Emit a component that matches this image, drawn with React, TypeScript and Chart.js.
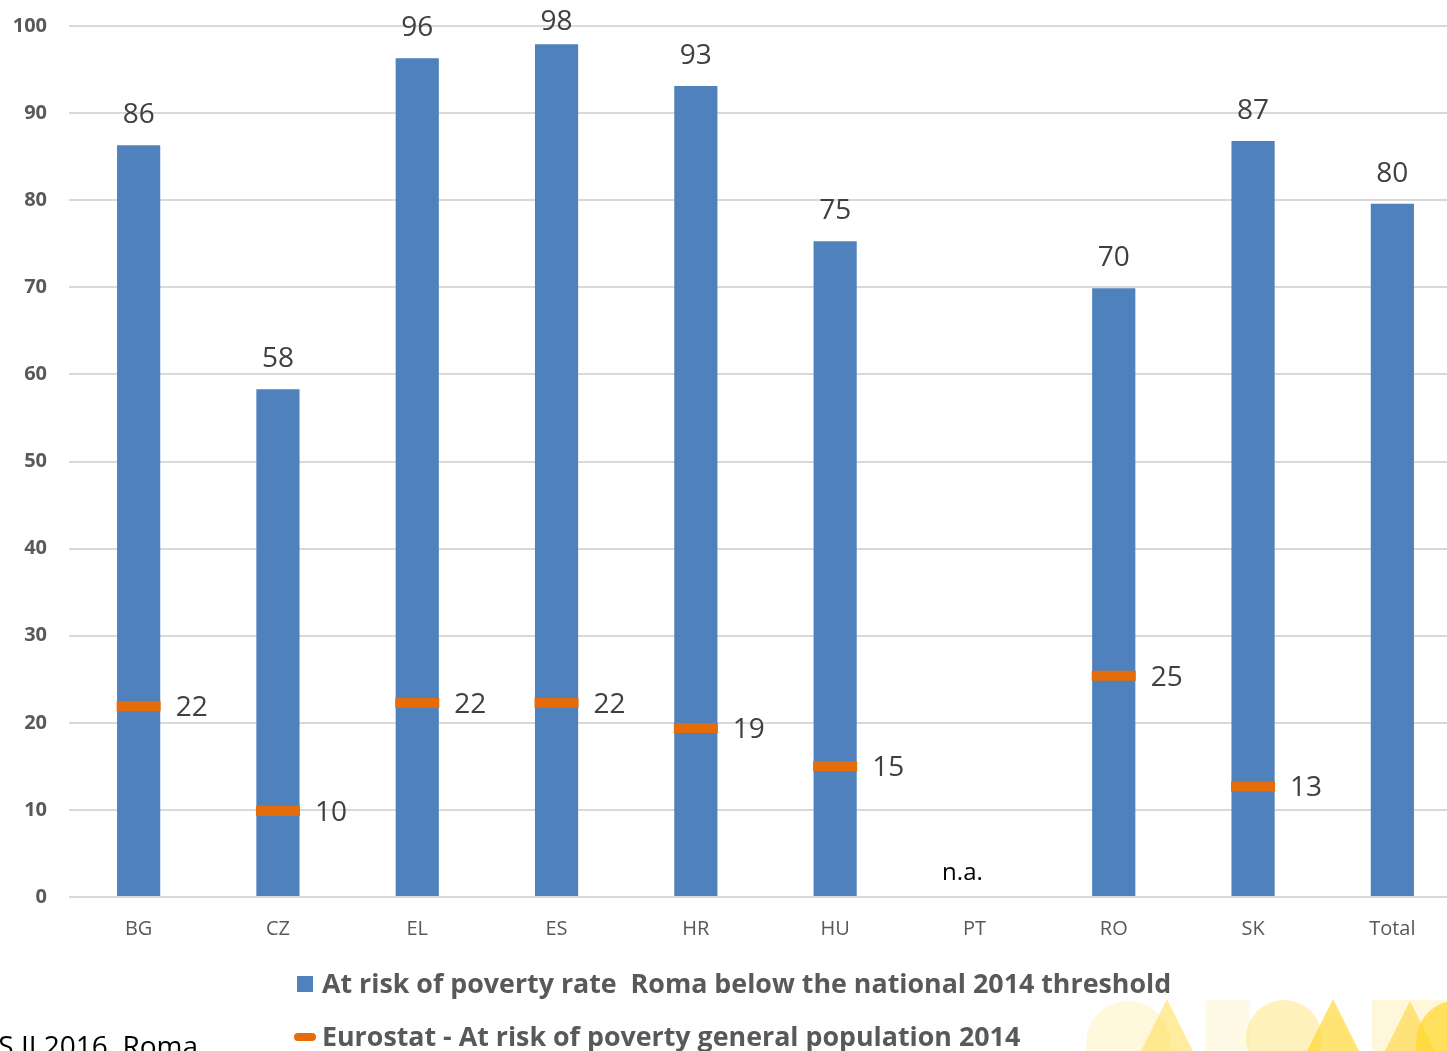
import { useEffect, useRef } from "react";
import { Chart, registerables } from "chart.js";

Chart.register(...registerables);

// Countries and the aggregate column
const categories = ["BG", "CZ", "EL", "ES", "HR", "HU", "PT", "RO", "SK", "Total"];
// At-risk-of-poverty rate of Roma below the national 2014 threshold (%)
const romaRate: (number | null)[] = [86.3, 58.3, 96.3, 97.9, 93.1, 75.3, null, 69.9, 86.8, 79.6];
// Eurostat at-risk-of-poverty rate, general population 2014 (%)
const generalRate: (number | null)[] = [21.9, 9.9, 22.3, 22.3, 19.4, 15.0, null, 25.4, 12.7, null];

const romaLabel = "At risk of poverty rate  Roma below the national 2014 threshold";
const generalLabel = "Eurostat - At risk of poverty general population 2014";
const missingText = "n.a.";
const sourceText = "EU-MIDIS II 2016, Roma";

const BLUE = "#4F81BD";
const ORANGE = "#E46C0A";
const FONT = "'Open Sans', 'DejaVu Sans', sans-serif";

const valueLabels = {
  id: "valueLabels",
  afterDatasetsDraw(chart: any) {
    const ctx = chart.ctx as CanvasRenderingContext2D;
    const bars = chart.getDatasetMeta(0).data;
    const marks = chart.getDatasetMeta(1).data;
    const xs = chart.scales.x;
    const ys = chart.scales.y;
    ctx.save();
    ctx.font = `28px ${FONT}`;
    ctx.fillStyle = "#404040";
    ctx.textBaseline = "middle";
    ctx.textAlign = "center";
    bars.forEach((el: any, i: number) => {
      const v = romaRate[i];
      if (v == null) return;
      // keep labels of the tallest bars inside the canvas
      const y = Math.max(el.y - 30, chart.chartArea.top - 4);
      ctx.fillText(String(Math.round(v)), el.x, y);
    });
    ctx.textAlign = "left";
    marks.forEach((el: any, i: number) => {
      const v = generalRate[i];
      if (v == null) return;
      ctx.fillText(String(Math.round(v)), el.x + 37, el.y + 2);
    });
    ctx.font = `24px ${FONT}`;
    ctx.fillStyle = "#000000";
    ctx.textAlign = "center";
    categories.forEach((_, i) => {
      if (romaRate[i] == null) {
        ctx.fillText(missingText, xs.getPixelForValue(i) - 12, ys.getPixelForValue(0) - 24);
      }
    });
    ctx.restore();
  },
};

// Legend block, source note and the decorative logo strip at the foot of the canvas
const footer = {
  id: "footer",
  afterDraw(chart: any) {
    const ctx = chart.ctx as CanvasRenderingContext2D;
    ctx.save();

    const tri = (ax: number, ay: number, half: number, h: number, color: string) => {
      ctx.fillStyle = color;
      ctx.beginPath();
      ctx.moveTo(ax, ay);
      ctx.lineTo(ax + half, ay + h);
      ctx.lineTo(ax - half, ay + h);
      ctx.closePath();
      ctx.fill();
    };
    const circ = (cx: number, cy: number, r: number, color: string) => {
      ctx.fillStyle = color;
      ctx.beginPath();
      ctx.arc(cx, cy, r, 0, Math.PI * 2);
      ctx.fill();
    };
    ctx.fillStyle = "rgba(255, 240, 180, 0.35)";
    ctx.fillRect(1205, 1000, 45, 60);
    ctx.fillStyle = "rgba(255, 236, 160, 0.4)";
    ctx.fillRect(1372, 1000, 80, 60);
    circ(1128, 1043, 42, "rgba(255, 238, 170, 0.4)");
    tri(1167, 999, 28, 56, "rgba(255, 221, 80, 0.55)");
    circ(1284, 1038, 38, "rgba(255, 228, 120, 0.5)");
    tri(1333, 999, 28, 56, "rgba(255, 214, 40, 0.65)");
    tri(1410, 1001, 28, 56, "rgba(255, 214, 60, 0.6)");
    circ(1458, 1042, 42, "rgba(255, 215, 40, 0.7)");

    ctx.font = `bold 26.8px ${FONT}`;
    ctx.textBaseline = "middle";
    ctx.textAlign = "left";
    ctx.fillStyle = BLUE;
    ctx.fillRect(297, 976, 16, 16);
    ctx.fillStyle = "#595959";
    ctx.fillText(romaLabel, 322, 985);

    ctx.strokeStyle = ORANGE;
    ctx.lineWidth = 8;
    ctx.lineCap = "round";
    ctx.beginPath();
    ctx.moveTo(298, 1037);
    ctx.lineTo(312, 1037);
    ctx.stroke();
    ctx.fillText(generalLabel, 322, 1038);

    ctx.font = `28px ${FONT}`;
    ctx.fillStyle = "#000000";
    ctx.textAlign = "right";
    ctx.textBaseline = "alphabetic";
    ctx.fillText(sourceText, 198, 1056);
    ctx.restore();
  },
};

export default function App() {
  const ref = useRef<HTMLCanvasElement>(null);

  useEffect(() => {
    document.body.style.margin = "0";
    document.body.style.overflow = "hidden";
    const chart = new Chart(ref.current!, {
      type: "bar",
      data: {
        labels: categories,
        datasets: [
          {
            label: romaLabel,
            data: romaRate,
            backgroundColor: BLUE,
            barPercentage: 0.31,
            categoryPercentage: 1,
            order: 1,
          },
          {
            type: "line",
            label: generalLabel,
            data: generalRate,
            showLine: false,
            pointStyle: "line",
            pointRadius: 22,
            pointHoverRadius: 22,
            pointBorderWidth: 10,
            pointBorderColor: ORANGE,
            pointBackgroundColor: ORANGE,
            order: 0,
          } as any,
        ],
      },
      options: {
        animation: false,
        responsive: false,
        devicePixelRatio: 1,
        layout: { autoPadding: false, padding: { top: 26, right: 0, bottom: 0, left: 0 } },
        plugins: { legend: { display: false }, tooltip: { enabled: false } },
        scales: {
          x: {
            offset: true,
            grid: { display: false },
            border: { display: false },
            ticks: { color: "#595959", padding: 12, font: { family: FONT, size: 20 } },
            afterFit: (s: any) => {
              s.height = 154;
              s.paddingLeft = 0;
              s.paddingRight = 0;
            },
          },
          y: {
            min: 0,
            max: 100,
            ticks: {
              stepSize: 10,
              color: "#595959",
              padding: 22,
              font: { family: FONT, size: 20, weight: "bold" },
            },
            grid: { color: "#D9D9D9", lineWidth: 2, drawTicks: false },
            border: { display: false },
            afterFit: (s: any) => {
              s.width = 69;
              s.paddingTop = 0;
              s.paddingBottom = 0;
            },
          },
        },
      },
      plugins: [valueLabels, footer],
    });
    return () => chart.destroy();
  }, []);

  return (
    <div
      style={{
        position: "fixed",
        left: 0,
        top: 0,
        width: 1447,
        height: 1051,
        overflow: "hidden",
        background: "#ffffff",
      }}
    >
      <canvas ref={ref} width={1462} height={1051} style={{ display: "block" }} />
    </div>
  );
}
